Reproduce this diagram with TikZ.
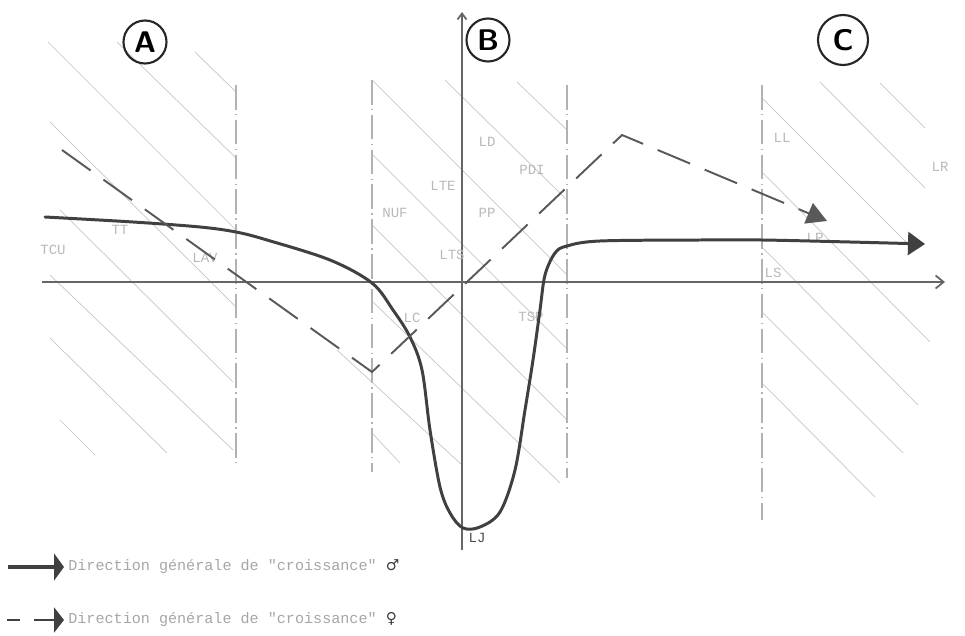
\documentclass[tikz,border=0pt]{standalone}
\usepackage{fontspec}
\setmonofont{Liberation Mono}
\newfontfamily\symfont{DejaVu Sans}
\usetikzlibrary{arrows.meta}

\begin{document}
\begin{tikzpicture}[
    x=0.2mm, y=-0.2mm,
    hatch/.style   = {draw=gray!45, line width=0.4pt},
    zone/.style    = {draw=gray!60, line width=0.6pt, dash pattern=on 14pt off 2.5pt on 0.8pt off 2.5pt},
    axis/.style    = {draw=black!60, line width=1pt},
    male/.style    = {draw=black!75, line width=1.7pt, line cap=round, -{Triangle[length=3.4mm, width=4.6mm]}},
    female/.style  = {draw=black!65, line width=1.1pt, dash pattern=on 20pt off 9pt, -{Triangle[length=4mm, width=4.4mm]}},
    tag/.style     = {font=\fontsize{8}{8}\selectfont\ttfamily, text=gray!55, inner sep=0pt},
    zonelbl/.style = {circle, draw=black!85, line width=1.2pt, minimum size=8.6mm, inner sep=0pt, font=\fontsize{17}{17}\selectfont\sffamily\bfseries},
    legtxt/.style  = {font=\fontsize{8.6}{10}\selectfont\ttfamily, text=gray!70, anchor=west, inner sep=0pt},
]

\useasboundingbox (0,0) rectangle (965,636);

%% ---- Hatching of the three zones ----

% zone A
\foreach \xa/\ya/\xb/\yb in {48/42/236/230, 117/42/236/158, 195/52/236/92, 50/122/236/307,
                            60/210/233/382, 50/275/233/450, 50/338/167/453, 60/420/95/455}
    \draw[hatch] (\xa,\ya) -- (\xb,\yb);

% zone B
\foreach \xa/\ya/\xb/\yb in {372/80/567/275, 445/80/567/200, 517/82/567/130, 373/155/567/349,
                            372/225/567/420, 373/302/560/483, 337/350/462/465, 372/433/400/463}
    \draw[hatch] (\xa,\ya) -- (\xb,\yb);

% zone C
\foreach \xa/\ya/\xb/\yb in {762/98/915/251, 820/82/925/188, 880/83/925/128, 762/172/930/342,
                            762/247/918/405, 762/312/903/453, 762/383/875/497}
    \draw[hatch] (\xa,\ya) -- (\xb,\yb);

%% ---- Zone limits ----

\foreach \x/\ya/\yb in {236/85/462, 372/80/472, 567/85/478, 762/85/520}
    \draw[zone] (\x,\ya) -- (\x,\yb);

%% ---- Axes ----

\coordinate (xl) at (42,282);
\coordinate (xr) at (945,282);
\coordinate (yb) at (462,550);
\coordinate (yt) at (462,12);
\draw[axis, -{Straight Barb[length=1.6mm, width=2.6mm]}] (xl) -- (xr);
\draw[axis, -{Straight Barb[length=1.2mm, width=1.8mm]}] (yb) -- (yt);

%% ---- Zone names ----

\node[zonelbl] (zA) at (145,42) {A};
\node[zonelbl] (zB) at (488,40) {B};
\node[zonelbl, minimum size=10mm] (zC) at (843,40) {C};

%% ---- Small labels ----

\node[tag] (tTCU) at (53,250)  {TCU};
\node[tag] (tTT)  at (120,230) {TT};
\node[tag] (tLAV) at (205,258) {LAV};
\node[tag] (tNUF) at (395,213) {NUF};
\node[tag] (tLTE) at (443,186) {LTE};
\node[tag] (tLTS) at (452,255) {LTS};
\node[tag] (tLD)  at (487,142) {LD};
\node[tag] (tPDI) at (532,170) {PDI};
\node[tag] (tPP)  at (487,213) {PP};
\node[tag] (tLC)  at (412,318) {LC};
\node[tag] (tTSP) at (531,317) {TSP};
\node[tag, text=black!70] (tLJ) at (477,538) {LJ};
\node[tag] (tLL)  at (782,138) {LL};
\node[tag] (tLR)  at (940,167) {LR};
\node[tag] (tLP)  at (815,238) {LP};
\node[tag] (tLS)  at (773,273) {LS};

%% ---- Growth curves ----

% male: solid
\draw[male] plot[smooth, tension=0.55] coordinates {
    (45,217) (133,222) (200,227) (236,232) (267,240) (330,260) (372,283)
    (393,310) (410,337) (422,370) (430,430) (440,487) (450,513) (463,528)
    (480,527) (500,512) (515,470) (525,410) (533,360) (540,310) (545,275)
    (555,253) (567,246) (600,241) (700,240) (762,240) (850,242) (925,244)};

% female: dashed
\coordinate (f0) at (62,150);
\coordinate (f1) at (372,372);
\coordinate (f2) at (622,135);
\coordinate (f3) at (827,221);
\draw[female] (f0) -- (f1) -- (f2) -- (f3);

%% ---- Legend ----

\coordinate (m0) at (8,567);
\coordinate (m1) at (64,567);
\coordinate (w0) at (7,620);
\coordinate (w1) at (64,620);

\draw[draw=black!75, line width=2.2pt, -{Triangle[length=2mm, width=5.4mm]}] (m0) -- (m1);
\draw[draw=black!75, line width=1.6pt, dash pattern=on 7.5pt off 8pt on 11pt off 5pt,
      -{Triangle[length=2mm, width=5mm]}] (w0) -- (w1);

\node[legtxt] (lm) at (68,567) {Direction générale de "croissance" {\symfont\textcolor{black!75}{♂}}};
\node[legtxt] (lw) at (68,620) {Direction générale de "croissance" {\symfont\textcolor{black!75}{♀}}};

\end{tikzpicture}
\end{document}
